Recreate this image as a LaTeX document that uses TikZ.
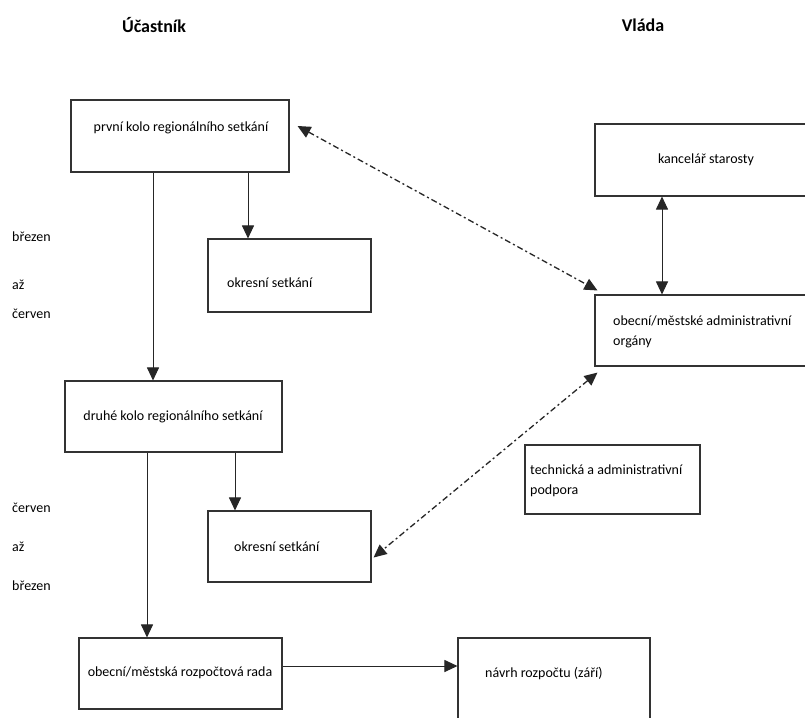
\documentclass[tikz,border=0pt]{standalone}
\usepackage{fontspec}
\setmainfont{Carlito}
\usetikzlibrary{arrows.meta}
\begin{document}
\begin{tikzpicture}[x=1pt,y=-1pt,
  box/.style={draw=black!80, line width=1.1pt, inner sep=0pt},
  txt/.style={inner sep=0pt, font=\fontsize{14}{20}\selectfont, text=black},
  ttl/.style={inner sep=0pt, font=\fontsize{18}{22}\selectfont\bfseries, text=black},
  arr/.style={draw=black!85, line width=1pt, -{Triangle[length=13pt,width=12pt]}},
  darr/.style={draw=black!85, line width=1pt, {Triangle[length=13pt,width=12pt]}-{Triangle[length=13pt,width=12pt]}},
  dd/.style={draw=black!85, line width=1.3pt, dash pattern=on 6pt off 3pt on 2pt off 3pt,
    {Triangle[length=13pt,width=12pt]}-{Triangle[length=13pt,width=12pt]}}
]
\useasboundingbox (0,0) rectangle (805,717);
\clip (0,0) rectangle (805,717);
\fill[white] (0,0) rectangle (805,717);

% titles
\node[ttl] (t1) at (154,25) {Účastník};
\node[ttl] (t2) at (643,25) {Vláda};

% boxes
\node[box, minimum width=218pt, minimum height=72pt] (p1) at (180,136) {};
\node[box, minimum width=163pt, minimum height=73pt] (o1) at (289.5,275.5) {};
\node[box, minimum width=220pt, minimum height=72pt] (k) at (705,160) {};
\node[box, minimum width=220pt, minimum height=71pt] (a) at (705,330.5) {};
\node[box, minimum width=217pt, minimum height=71pt] (p2) at (173.5,416.5) {};
\node[box, minimum width=175pt, minimum height=69pt] (t) at (612.5,479.5) {};
\node[box, minimum width=163pt, minimum height=71pt] (o2) at (289.5,546.5) {};
\node[box, minimum width=203pt, minimum height=71pt] (r) at (180.5,673.5) {};
\node[box, minimum width=192pt, minimum height=92pt] (n) at (554,684) {};

% texts
\node[txt] (p1t) at (181,128) {první kolo regionálního setkání};
\node[txt, anchor=west] (o1t) at (227,283) {okresní setkání};
\node[txt] (kt) at (706,160) {kancelář starosty};
\node[txt, anchor=north west, align=left] (at) at (613,316) {obecní/městské administrativní\\orgány};
\node[txt] (p2t) at (173,417) {druhé kolo regionálního setkání};
\node[txt, anchor=north west, align=left] (tt) at (530,465) {technická a administrativní\\podpora};
\node[txt, anchor=west] (o2t) at (234,547) {okresní setkání};
\node[txt] (rt) at (180,673) {obecní/městská rozpočtová rada};
\node[txt, anchor=west] (nt) at (485,673) {návrh rozpočtu (září)};

% side labels
\node[txt, anchor=west] (s1) at (12,237) {březen};
\node[txt, anchor=west] (s2) at (12,285) {až};
\node[txt, anchor=west] (s3) at (12,314) {červen};
\node[txt, anchor=west] (s4) at (12,508) {červen};
\node[txt, anchor=west] (s5) at (12,547) {až};
\node[txt, anchor=west] (s6) at (12,586) {březen};

% solid arrows
\draw[arr] (p1.south -| 153,0) -- (p2.north -| 153,0);
\draw[arr] (p1.south -| 248,0) -- (o1.north -| 248,0);
\draw[arr] (p2.south -| 147,0) -- (r.north -| 147,0);
\draw[arr] (p2.south -| 235,0) -- (o2.north -| 235,0);
\draw[arr] (r.east |- 0,666) -- (n.west |- 0,666);
\draw[darr] (k.south -| 662,0) -- (a.north -| 662,0);

% dash-dot arrows
\draw[dd] ([shift={(8,-10)}]p1.east) -- ([shift={(3,-4)}]a.north west);
\draw[dd] ([shift={(3,6)}]a.south west) -- ([shift={(2,11)}]o2.east);
\end{tikzpicture}
\end{document}
